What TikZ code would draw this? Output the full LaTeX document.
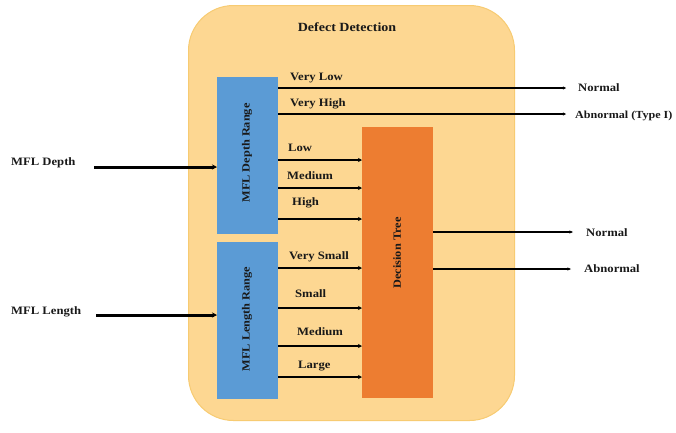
\documentclass[tikz,border=0pt]{standalone}
\usepackage{fontspec}
\setmainfont{Liberation Serif}[FakeStretch=1.12]
\usetikzlibrary{arrows.meta}
\definecolor{outerfill}{HTML}{FDD792}
\definecolor{outerdraw}{HTML}{F7CB72}
\definecolor{bluebox}{HTML}{5B9BD5}
\definecolor{orangebox}{HTML}{ED7D31}
\tikzset{
  lbl/.style={font=\bfseries\fontsize{11.3}{12}\selectfont, inner sep=0pt, anchor=west, text=black!90},
  rotlbl/.style={font=\bfseries\fontsize{11}{12}\selectfont, rotate=90, text=black!90},
  block/.style={draw=none, inner sep=0pt, anchor=north west},
  inarrow/.style={line width=3pt, -{Stealth[length=5pt,width=5pt]}},
  midarrow/.style={line width=2pt, -{Stealth[length=4pt,width=4pt]}},
  longline/.style={line width=2pt, -{Stealth[length=3pt,width=3pt]}},
  outline/.style={line width=1.4pt, -{Stealth[length=3.5pt,width=3pt]}}
}
\begin{document}
\begin{tikzpicture}[x=1pt,y=-1pt]
\useasboundingbox (0,0) rectangle (676,432);
% outer container
\node[block, fill=outerfill, draw=outerdraw, line width=1pt, rounded corners=45pt,
  minimum width=326pt, minimum height=415pt] (outer) at (188,5) {};
\node[font=\bfseries\fontsize{12.5}{14}\selectfont, text=black!90] (title) at (347,27) {Defect Detection};
% blocks
\node[block, fill=bluebox, minimum width=61pt, minimum height=157pt] (depth) at (217,77) {};
\node[block, fill=bluebox, minimum width=61pt, minimum height=157pt] (length) at (217,242) {};
\node[block, fill=orangebox, minimum width=71pt, minimum height=271pt] (tree) at (362,127) {};
\node[rotlbl] (depthtxt) at (247,153) {MFL Depth Range};
\node[rotlbl] (lengthtxt) at (247,319) {MFL Length Range};
\node[rotlbl] (treetxt) at (397,253) {Decision Tree};
% inputs
\node[lbl] (mfld) at (11,163) {MFL Depth};
\node[lbl] (mfll) at (11,312) {MFL Length};
\coordinate (d0) at (94,167);
\coordinate (l0) at (96,315);
\draw[inarrow] (d0) -- (depth.west |- d0);
\draw[inarrow] (l0) -- (length.west |- l0);
% depth outputs
\node[lbl] (vlow) at (290,78) {Very Low};
\node[lbl] (vhigh) at (290,104) {Very High};
\node[lbl] (low) at (288,148) {Low};
\node[lbl] (dmed) at (287,176) {Medium};
\node[lbl] (high) at (292,203) {High};
\node[lbl] (norm1) at (578,88) {Normal};
\node[lbl, font=\bfseries\fontsize{10.8}{12}\selectfont] (abn1) at (575,116) {Abnormal (Type I)};
\coordinate (e1) at (566,88);
\coordinate (e2) at (566,114);
\draw[longline] (depth.east |- e1) -- (e1);
\draw[longline] (depth.east |- e2) -- (e2);
\draw[midarrow] (depth.east |- 0,160) -- (tree.west |- 0,160);
\draw[midarrow] (depth.east |- 0,188) -- (tree.west |- 0,188);
\draw[midarrow] (depth.east |- 0,219) -- (tree.west |- 0,219);
% length outputs
\node[lbl] (vsmall) at (289,257) {Very Small};
\node[lbl] (small) at (295,294) {Small};
\node[lbl] (lmed) at (297,332) {Medium};
\node[lbl] (large) at (298,366) {Large};
\draw[midarrow] (length.east |- 0,268) -- (tree.west |- 0,268);
\draw[midarrow, line width=1.4pt] (length.east |- 0,308) -- (tree.west |- 0,308);
\draw[midarrow] (length.east |- 0,346) -- (tree.west |- 0,346);
\draw[midarrow] (length.east |- 0,377) -- (tree.west |- 0,377);
% tree outputs
\node[lbl] (norm2) at (586,233) {Normal};
\node[lbl] (abn2) at (584,269) {Abnormal};
\coordinate (e3) at (573,232);
\coordinate (e4) at (571,269);
\draw[outline] (tree.east |- e3) -- (e3);
\draw[outline] (tree.east |- e4) -- (e4);
\end{tikzpicture}
\end{document}
